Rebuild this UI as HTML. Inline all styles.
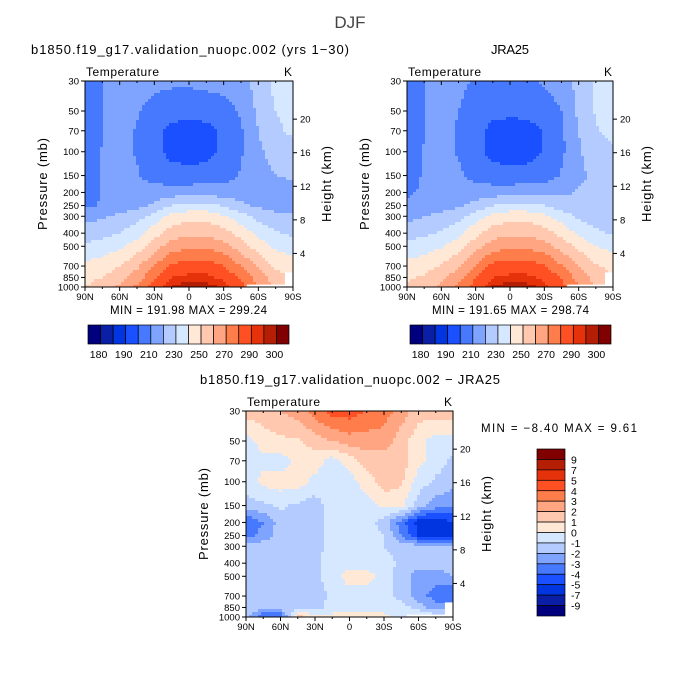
<!DOCTYPE html>
<html><head><meta charset="utf-8">
<style>
html,body{margin:0;padding:0;background:#fff;}
svg{display:block;font-family:"Liberation Sans",sans-serif;}
</style></head>
<body>
<svg id="fig" width="700" height="700" viewBox="0 0 700 700"></svg>
<script>
// ---------- data ----------
const lats = [90,75,60,45,30,15,0,-15,-30,-45,-60,-75,-90];
const levels = [1000,850,700,500,400,300,250,200,150,100,70,50,30];
const tempLevels = [180,185,190,200,210,220,230,240,250,260,270,280,290,295,300];
const tempLabels = ["180","190","210","230","250","270","290","300"];
const diffLevels = [-9,-7,-5,-4,-3,-2,-1,0,1,2,3,4,5,7,9];
const diffLabels = ["9","7","5","4","3","2","1","0","-1","-2","-3","-4","-5","-7","-9"];
const modelT = [
 [250,253,262,272,285,296,299,298,293,283,270,258,250],
 [248,250,256,265,278,290,292,292,288,278,265,255,248],
 [243,245,250,258,270,282,285,285,280,270,258,248,245],
 [232,234,238,245,255,265,268,268,264,255,245,238,235],
 [225,227,230,236,246,255,258,258,254,246,237,231,228],
 [216,219,222,226,234,243,246,246,241,234,227,223,222],
 [208,211,214,217,222,230,233,233,229,222,218,216,215],
 [206,210.5,213,214,214,215,216,216,215,215,216,217,218],
 [205,211,214,211,206,204,203,204,205,211,216,220,221],
 [205,210.5,214,209,203,197,196,197,202,209,218,224,226],
 [206,209.5,214,209,203,197,196,197,202,209,220,228,232],
 [207,209.5,215,211,206,204,203,204,206,211,222,230,234],
 [208,209.5,216,214,213,212,212,213,214,217,224,233,236]];
const obsT = [
 [251,254,263,272,285,296,298,297,293,283,270,258,250],
 [249,251,257,266,279,290,292,292,288,279,266,257,250],
 [244,246,251,259,271,283,285,285,281,271,260,251,248],
 [233,235,239,246,256,265,268,267,264,256,247,240,237],
 [226,228,231,237,247,255,258,258,254,247,238,232,229],
 [217,220,223,227,235,243,246,246,242,235,228,224,223],
 [211,213,215,218,223,230,233,233,230,225,223,221,221],
 [209,211,214,216,215,215,216,216,216,218,221,223,223],
 [206,211,215,212,206,204,203,204,205,211,218,222,224],
 [205,210.5,214,209,203,197,196,196,201,208,219,225,228],
 [206,209.5,214,209,203,197,196,196,201,208,220,229,233],
 [207,209.5,214,210,206,203,202,203,205,210,222,231,235],
 [207,209.5,214,212,209,208,208,209,211,215,223,232,235]];
const diffT = [
 [-1.5,-4,-4,1.5,0.5,0.3,0.3,0.3,0.3,-0.5,0.5,-0.5,-0.5],
 [-1.5,-1.5,-1.5,-1.5,-1.5,-0.5,-0.5,-0.5,-0.5,-0.5,-1.5,-2.5,-2.5],
 [-1.5,-1.5,-1.5,-1.5,-1.5,-0.8,-0.5,-0.5,-0.5,-1.5,-2.5,-3.5,-4],
 [-1.5,-1.5,-1.5,-1.5,-1.2,-0.5,0.5,0.5,-0.5,-1.5,-2.5,-2.5,-2],
 [-1.5,-1.5,-1.5,-1.5,-1.2,-0.5,-0.5,-0.5,-0.5,-1.2,-1.5,-1.5,-1.5],
 [-1.5,-1.5,-1.5,-1.5,-1.5,-0.5,-0.5,-0.5,-1,-1.5,-1.5,-1.5,-1.5],
 [-3.5,-2.5,-1.5,-1.5,-1.5,-0.5,-0.5,-0.5,-1,-3,-5,-6,-6],
 [-4,-3,-1.5,-2,-1.5,-0.5,-0.5,-0.5,-1.5,-3.5,-5.5,-6,-5],
 [-1.5,-1.2,-0.8,-1.2,-1.5,-0.5,-0.5,-0.5,0.3,0.3,-1.5,-2.5,-3],
 [-0.5,0.3,0.5,0.5,-0.3,-0.5,-0.5,0.5,1.5,1.2,-0.5,-1.2,-1.5],
 [-0.5,-0.3,-0.5,0.3,0.5,-0.5,0.5,1.5,1.5,1.5,0.3,-0.5,-1.2],
 [-0.5,0.5,0.8,0.8,1.5,2,2.5,2.5,2.5,1.5,0.3,-0.5,-0.5],
 [1.5,1.5,2,2.5,3.5,4.5,4.5,4,3.5,2.5,1.5,1.5,1.5]];
const palette = ["#00007f","#0a1fa5","#0035e0","#1a50ff","#4779ff","#7fa4ff","#b3cbff","#d6e8ff",
 "#ffe8d6","#ffc8af","#ffa582","#ff7d4b","#ff5023","#e5320a","#b41e05","#800000"];

// ---------- helpers ----------
const NS="http://www.w3.org/2000/svg";
const svg=document.getElementById('fig');
function mk(tag,attrs,parent){const e=document.createElementNS(NS,tag);for(const k in attrs)e.setAttribute(k,attrs[k]);(parent||svg).appendChild(e);return e;}
function txt(s,x,y,size,anchor,parent,extra){const t=mk('text',Object.assign({x:x,y:y,'font-size':size,'text-anchor':anchor||'middle',fill:'#000'},extra||{}),parent);t.textContent=s;return t;}
function binIndex(v,lv){let i=0;while(i<lv.length&&v>=lv[i])i++;return i;}
function sample(grid,fi,fj){
  const i0=Math.max(0,Math.min(levels.length-2,Math.floor(fi))),j0=Math.max(0,Math.min(lats.length-2,Math.floor(fj)));
  const a=fi-i0,b=fj-j0;
  return grid[i0][j0]*(1-a)*(1-b)+grid[i0][j0+1]*(1-a)*b+grid[i0+1][j0]*a*(1-b)+grid[i0+1][j0+1]*a*b;
}
function levelIdx(p){
  const lp=Math.log(p);
  for(let i=0;i<levels.length-1;i++){const a=Math.log(levels[i]),b=Math.log(levels[i+1]);
    if(lp<=a&&lp>=b)return i+(a-lp)/(a-b);}
  return lp>Math.log(levels[0])?0:levels.length-1;
}

function drawPanel(name,X0,Y0,W,H,grid,lv,mask){
  const g=mk('g',{});
  
  
  const yOf=p=>Y0+H*Math.log10(p/30)/Math.log10(1000/30);
  const xOf=lat=>X0+W*(90-lat)/180;
  const step=3;
  const cells=mk('g',{'shape-rendering':'crispEdges'},g);
  
  
  for(let py=Y0;py<Y0+H;py+=step){
    const p=30*Math.pow(1000/30,(py+step/2-Y0)/H);
    const fi=levelIdx(p);
    for(let px=X0;px<X0+W;px+=step){
      const lat=90-180*(px+step/2-X0)/W;
      const fj=(90-lat)/15;
      const v=sample(grid,fi,fj);
      mk('rect',{x:px,y:py,width:Math.min(step+0.5,X0+W-px),height:Math.min(step+0.5,Y0+H-py),fill:palette[binIndex(v,lv)]},cells);
    }
  }
  if(mask){
    mk('rect',{x:xOf(-50),y:yOf(960),width:xOf(-90)-xOf(-50),height:Y0+H-yOf(960),fill:'#fff'},g);
    mk('rect',{x:xOf(-83),y:yOf(780),width:xOf(-90)-xOf(-83),height:Y0+H-yOf(780),fill:'#fff'},g);
  }
  mk('rect',{x:X0,y:Y0,width:W,height:H,fill:'none',stroke:'#000','stroke-width':1},g);
  const pt=[30,50,70,100,150,200,250,300,400,500,700,850,1000];
  pt.forEach(p=>{const y=yOf(p);mk('line',{x1:X0-4,x2:X0,y1:y,y2:y,stroke:'#000'},g);
    const t=txt(String(p),X0-6,y+3.5,9.5,'end',g);});
  [4,8,12,16,20].forEach(z=>{const p=1000*Math.exp(-z/7);const y=yOf(p);
    mk('line',{x1:X0+W,x2:X0+W+4,y1:y,y2:y,stroke:'#000'},g);
    const t=txt(String(z),X0+W+7,y+3.5,9.5,'start',g);});
  for(let lat=90;lat>=-90;lat-=15){const x=xOf(lat);const major=lat%30===0;
    mk('line',{x1:x,x2:x,y1:Y0+H,y2:Y0+H+(major?4:2),stroke:'#000'},g);
    mk('line',{x1:x,x2:x,y1:Y0,y2:Y0+(major?4:2),stroke:'#000'},g);}
  ["90N","60N","30N","0","30S","60S","90S"].forEach((s,i)=>{const t=txt(s,X0+W*i/6,Y0+H+13,9.5,'middle',g);});
  const t1=txt('Temperature',X0+1,Y0-5,12,'start',g,{textLength:73});
  const t2=txt('K',X0+W-1,Y0-5,12,'end',g);
  const t3=txt('Pressure (mb)',0,0,13,'middle',g,{transform:`translate(${X0-38},${Y0+H/2}) rotate(-90)`,textLength:92});
  
  const t4=txt('Height (km)',0,0,13,'middle',g,{transform:`translate(${X0+W+38},${Y0+H/2}) rotate(-90)`,textLength:76});
  
}

function hColorbar(name,x0,y0,w,h){
  const g=mk('g',{});
  
  
  const n=palette.length,bw=w/n;
  palette.forEach((c,i)=>mk('rect',{x:x0+i*bw,y:y0,width:bw,height:h,fill:c,stroke:'#000','stroke-width':0.7},g));
  tempLabels.forEach((s,k)=>{const t=txt(s,x0+bw*(1+2*k)-2,y0+h+14,10.5,'middle',g);});
}
function vColorbar(name,x0,y0,w,h){
  const g=mk('g',{});
  
  
  const n=palette.length,bh=h/n;
  for(let i=0;i<n;i++)mk('rect',{x:x0,y:y0+i*bh,width:w,height:bh,fill:palette[n-1-i],stroke:'#000','stroke-width':0.7},g);
  diffLabels.forEach((s,k)=>{const t=txt(s,x0+w+6,y0+bh*(k+1)+4,10.5,'start',g);});
}

// ---------- layout ----------
let t=txt('DJF',350,28,17,'middle',null,{fill:'#444'});
t=txt('b1850.f19_g17.validation_nuopc.002 (yrs 1\u221230)',190,54,13,'middle',null,{textLength:318});
t=txt('JRA25',510,54,13,'middle',null,{textLength:38});
t=txt('b1850.f19_g17.validation_nuopc.002 \u2212 JRA25',350,384,13,'middle',null,{textLength:300});

drawPanel('model-temperature-panel',85,81,208,206,modelT,tempLevels,true);
drawPanel('obs-temperature-panel',407,81,206,206,obsT,tempLevels,true);
drawPanel('difference-panel',246,411,207,206,diffT,diffLevels,true);

t=txt('MIN = 191.98   MAX = 299.24',110,314,11.5,'start',null,{'xml:space':'preserve',textLength:157});
t=txt('MIN = 191.65   MAX = 298.74',432,314,11.5,'start',null,{'xml:space':'preserve',textLength:157});
t=txt('MIN =   \u22128.40   MAX =    9.61',481,432,11.5,'start',null,{'xml:space':'preserve',textLength:156});

hColorbar('model-colorbar',88,325,201,19);
hColorbar('obs-colorbar',410,325,201,19);
vColorbar('diff-colorbar',537,449,28,167);
</script>
</body></html>
